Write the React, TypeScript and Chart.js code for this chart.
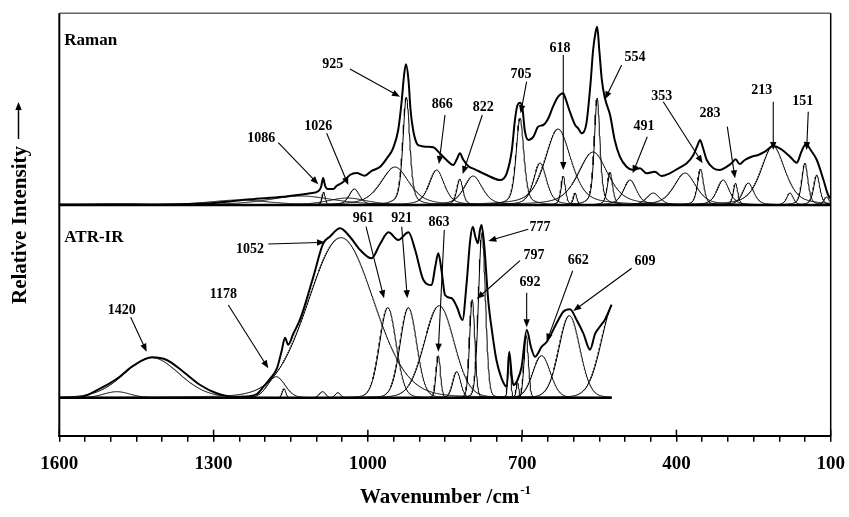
import React, { useEffect, useRef } from "react";
import { Chart, registerables } from "chart.js";

Chart.register(...registerables);

// ---------- axis ----------
const WN_MIN = 100;
const WN_MAX = 1600;
const xTickLabels = [1600, 1300, 1000, 700, 400, 100];

// ---------- Raman: measured spectrum (wavenumber, relative intensity) ----------
const ramanEnvWn = [1600, 1500, 1420, 1350, 1294, 1229, 1165, 1112, 1096, 1091, 1087, 1083, 1078, 1067, 1061, 1048, 1035, 1022, 1006, 993, 976, 963, 951, 941, 934, 930, 926, 921, 917, 912, 905, 899, 886, 873, 860, 847, 834, 827, 821, 815, 805, 792, 769, 743, 730, 720, 714, 709, 704, 699, 695, 688, 678, 669, 659, 649, 640, 630, 620, 617, 607, 597, 591, 584, 575, 567, 562, 557, 554, 550, 545, 539, 529, 520, 510, 497, 484, 471, 458, 442, 429, 413, 396, 380, 367, 360, 354, 349, 341, 328, 315, 302, 293, 285, 277, 267, 254, 241, 228, 212, 196, 179, 166, 157, 148, 139, 127, 114, 105, 100];
const ramanEnvInt = [0.5, 0.8, 0.6, 1, 2.3, 5.7, 8.3, 11.7, 14, 18, 27, 19, 16, 16, 19, 23, 30, 32, 29.3, 34, 38.3, 46.7, 56.7, 75, 105, 128, 140.7, 125, 95, 75, 61.7, 59.3, 58.3, 57.7, 51.7, 45, 40, 45.7, 51.7, 45.7, 39, 35.7, 30, 25, 31.7, 55, 85, 100, 102.3, 95, 75, 65, 68.3, 78.3, 80, 86.7, 98.3, 108.3, 111.7, 108.3, 93, 80, 76.7, 71.7, 81.7, 121.7, 155, 173.3, 178.3, 155, 125, 106.7, 90, 65, 48.3, 38.3, 35, 36.7, 31.7, 33.3, 29, 31.7, 36.7, 41.7, 50, 58.3, 65, 58.3, 45, 36.7, 35, 38.3, 41.7, 45.7, 41, 45, 48.3, 50, 53.3, 59, 55.7, 48.3, 42.3, 53.3, 61, 55, 45, 25, 10, 6];

// ---------- Raman: fitted bands (centre, height, FWHM) ----------
const ramanCenters = [1250, 1130, 1086, 1040, 1026, 947, 925, 866, 821, 795, 704, 665, 630, 620, 597, 562, 554, 529, 490, 445, 383, 353, 309, 285, 260, 212, 179, 150, 127, 108];
const ramanHeights = [5, 9, 13, 7, 16, 38, 108, 35, 26, 29, 87, 42, 76, 29, 12, 53, 107, 33, 25, 12, 32, 36, 25, 22, 22, 59, 12, 42, 30, 8];
const ramanWidths = [140, 150, 7, 90, 24, 65, 16, 35, 14, 42, 18, 30, 60, 10, 8, 68, 13, 12, 30, 30, 50, 14, 28, 10, 25, 55, 15, 14, 14, 12];

// ---------- ATR-IR: measured spectrum ----------
const irEnvWn = [1600, 1560, 1521, 1488, 1456, 1420, 1391, 1359, 1326, 1294, 1262, 1230, 1215, 1203, 1190, 1177, 1168, 1161, 1155, 1145, 1132, 1106, 1087, 1074, 1054, 1035, 1015, 993, 976, 960, 941, 921, 908, 892, 876, 869, 863, 856, 850, 837, 827, 816, 808, 801, 796, 791, 786, 782, 779, 774, 766, 758, 750, 740, 730, 725, 720, 717, 709, 701, 691, 683, 675, 662, 652, 633, 620, 607, 594, 581, 568, 558, 549, 539, 526];
const irEnvInt = [0, 0.5, 9, 19, 32, 40.4, 37.7, 26, 12.7, 4.4, 1, 1.5, 4, 11, 19, 29, 46, 60, 53, 64, 78, 121, 154, 161, 169.4, 161, 147.7, 139.4, 154, 165.4, 157.7, 165.4, 147.7, 117.7, 112.7, 131, 144.4, 124.4, 102.7, 99.4, 91, 77.7, 114.4, 157.7, 171, 161, 154.4, 167.7, 172.7, 154, 97.7, 64.4, 37.7, 19.4, 11, 46, 21, 12.7, 17.7, 31, 67.7, 51, 41, 51, 56, 74.4, 86, 88.4, 77.7, 64.4, 48, 64, 71, 78, 93];

// ---------- ATR-IR: fitted bands ----------
const irCenters = [1488, 1420, 1178, 1163, 1088, 1058, 1052, 961, 921, 863, 861, 827, 797, 778, 725, 709, 692, 662, 608, 520];
const irHeights = [6, 40, 21, 9, 6, 5, 160, 90, 90, 42, 92, 26, 98, 165, 45, 15, 62, 42, 82, 95];
const irWidths = [60, 125, 40, 8, 14, 12, 150, 38, 38, 10, 68, 18, 12, 16, 6, 6, 10, 40, 48, 60];

// ---------- peak labels ----------
const ramanPeakLabels = ["1086", "1026", "925", "866", "822", "705", "618", "554", "491", "353", "283", "213", "151"];
const ramanLabelWn = [1207.4, 1096.4, 1068.4, 855.3, 775.6, 702.3, 626.4, 480.6, 463.1, 428.7, 334.8, 234.3, 154.5];
const ramanLabelInt = [67.0, 78.3, 141.0, 100.7, 97.7, 131.0, 156.7, 147.7, 78.3, 109.0, 91.7, 115.0, 103.3];
const ramanArrowFromWn = [1174.2, 1080.1, 1034.8, 850, 777.5, 691.2, 620, 506.5, 456.7, 425.6, 301.1, 211.7, 143.6];
const ramanArrowFromInt = [62.3, 71.7, 136.0, 90.0, 90.0, 123.3, 150.0, 140.0, 68.3, 103.3, 78.3, 103.3, 93.3];
const ramanArrowToWn = [1096.4, 1038.1, 937.5, 861.7, 815.6, 702.9, 620, 539, 485.1, 349, 286.1, 211.7, 146.8];
const ramanArrowToInt = [20.7, 20.0, 108.3, 41.0, 31.0, 91.7, 35.0, 105.7, 31.7, 41.7, 26.7, 55.0, 55.0];

const irPeakLabels = ["1420", "1178", "1052", "961", "921", "863", "777", "797", "692", "662", "609"];
const irLabelWn = [1478.7, 1281.1, 1229.2, 1008.9, 934.2, 861.7, 665.3, 677, 684.8, 590.8, 461.2];
const irLabelInt = [87.7, 103.4, 148.4, 179.4, 179.4, 175.0, 170.4, 142.7, 115.0, 137.0, 136.0];
const irArrowFromWn = [1461.2, 1271.4, 1193.6, 1003.6, 934.2, 851.4, 688.1, 704.2, 691.2, 601.7, 487];
const irArrowFromInt = [80.4, 92.7, 153.7, 171.0, 171.0, 167.7, 168.4, 137.0, 105.0, 127.0, 129.4];
const irArrowToWn = [1430.1, 1193.6, 1083.4, 968.6, 923.3, 863.1, 765.8, 788.4, 691.2, 652.3, 600.6];
const irArrowToInt = [46.0, 29.4, 155.4, 99.4, 99.4, 46.0, 156.7, 98.7, 70.4, 56.0, 86.7];

// ---------- layout constants ----------
const Y_MAX = 422.4;
const RAMAN_OFFSET = 230.7;
const IR_OFFSET = 38;
const RAMAN_ETA = 0.5;
const IR_ETA = 0.1;
const FONT = '"Liberation Serif", "Times New Roman", serif';

function band(x: number, c: number, h: number, w: number, eta: number) {
  const d = (x - c) / w;
  const g = Math.exp(-4 * Math.LN2 * d * d);
  const l = 1 / (1 + 4 * d * d);
  return h * (eta * l + (1 - eta) * g);
}

function bandPoints(c: number, h: number, w: number, eta: number, lo: number, hi: number, offset: number) {
  const span = Math.max(6 * w, 40);
  const a = Math.max(lo, c - span);
  const b = Math.min(hi, c + span);
  const step = Math.min(1, w / 12);
  const pts: { x: number; y: number }[] = [];
  for (let x = a; x <= b + 1e-9; x += step) pts.push({ x, y: offset + band(x, c, h, w, eta) });
  return pts;
}

function envPoints(wn: number[], val: number[], offset: number) {
  const pts = wn.map((x, i) => ({ x, y: offset + val[i] }));
  return pts.sort((p, q) => p.x - q.x);
}

function drawArrow(ctx: CanvasRenderingContext2D, x1: number, y1: number, x2: number, y2: number) {
  const ang = Math.atan2(y2 - y1, x2 - x1);
  const L = 8, W = 3.2;
  ctx.beginPath();
  ctx.moveTo(x1, y1);
  ctx.lineTo(x2 - (L - 2) * Math.cos(ang), y2 - (L - 2) * Math.sin(ang));
  ctx.stroke();
  ctx.beginPath();
  ctx.moveTo(x2, y2);
  ctx.lineTo(x2 - L * Math.cos(ang) + W * Math.sin(ang), y2 - L * Math.sin(ang) - W * Math.cos(ang));
  ctx.lineTo(x2 - L * Math.cos(ang) - W * Math.sin(ang), y2 - L * Math.sin(ang) + W * Math.cos(ang));
  ctx.closePath();
  ctx.fill();
}

const decorPlugin = {
  id: "decor",
  afterDraw(chart: any) {
    const ctx: CanvasRenderingContext2D = chart.ctx;
    const xs = chart.scales.x;
    const ys = chart.scales.y;
    const area = chart.chartArea;
    ctx.save();
    // frame
    ctx.strokeStyle = "#666";
    ctx.lineWidth = 1.5;
    ctx.beginPath();
    ctx.moveTo(area.left, area.top);
    ctx.lineTo(area.right, area.top);
    ctx.stroke();
    ctx.strokeStyle = "#000";
    ctx.lineWidth = 2;
    ctx.beginPath();
    ctx.moveTo(area.left, area.top);
    ctx.lineTo(area.left, area.bottom);
    ctx.stroke();
    ctx.lineWidth = 1.5;
    ctx.beginPath();
    ctx.moveTo(area.right, area.top);
    ctx.lineTo(area.right, area.bottom);
    ctx.stroke();
    // major ticks crossing the axis
    ctx.lineWidth = 1.5;
    xTickLabels.forEach((v) => {
      const px = xs.getPixelForValue(v);
      ctx.beginPath();
      ctx.moveTo(px, area.bottom - 6);
      ctx.lineTo(px, area.bottom);
      ctx.stroke();
    });

    // peak labels and arrows
    ctx.fillStyle = "#000";
    ctx.strokeStyle = "#000";
    ctx.lineWidth = 1.1;
    ctx.font = `bold 14px ${FONT}`;
    ctx.textAlign = "center";
    ctx.textBaseline = "middle";
    const drawSet = (labels: string[], lw: number[], li: number[], fw: number[], fi: number[], tw: number[], ti: number[], off: number) => {
      labels.forEach((t, i) => {
        ctx.fillText(t, xs.getPixelForValue(lw[i]), ys.getPixelForValue(off + li[i]));
        drawArrow(
          ctx,
          xs.getPixelForValue(fw[i]),
          ys.getPixelForValue(off + fi[i]),
          xs.getPixelForValue(tw[i]),
          ys.getPixelForValue(off + ti[i])
        );
      });
    };
    drawSet(ramanPeakLabels, ramanLabelWn, ramanLabelInt, ramanArrowFromWn, ramanArrowFromInt, ramanArrowToWn, ramanArrowToInt, RAMAN_OFFSET);
    drawSet(irPeakLabels, irLabelWn, irLabelInt, irArrowFromWn, irArrowFromInt, irArrowToWn, irArrowToInt, IR_OFFSET);

    // panel names
    ctx.font = `bold 17px ${FONT}`;
    ctx.textAlign = "left";
    ctx.fillText("Raman", area.left + 5, ys.getPixelForValue(RAMAN_OFFSET + 164));
    ctx.fillText("ATR-IR", area.left + 5, ys.getPixelForValue(IR_OFFSET + 159.7));

    // x title with superscript
    const main = "Wavenumber /cm";
    const sup = "-1";
    ctx.font = `bold 21px ${FONT}`;
    const wMain = ctx.measureText(main).width;
    ctx.font = `bold 13px ${FONT}`;
    const wSup = ctx.measureText(sup).width;
    const cx = (area.left + area.right) / 2;
    const startX = cx - (wMain + wSup) / 2;
    ctx.textBaseline = "alphabetic";
    ctx.font = `bold 21px ${FONT}`;
    ctx.fillText(main, startX, 503);
    ctx.font = `bold 13px ${FONT}`;
    ctx.fillText(sup, startX + wMain + 1, 494);

    // y title with arrow
    ctx.save();
    ctx.translate(26, 225);
    ctx.rotate(-Math.PI / 2);
    ctx.font = `bold 21px ${FONT}`;
    ctx.textAlign = "center";
    ctx.textBaseline = "alphabetic";
    ctx.fillText("Relative Intensity", 0, 0);
    ctx.restore();
    ctx.lineWidth = 1.5;
    drawArrow(ctx, 18.5, 139, 18.5, 102);
    ctx.restore();
  },
};

export default function App() {
  const ref = useRef<HTMLCanvasElement | null>(null);

  useEffect(() => {
    if (!ref.current) return;
    const datasets: any[] = [];
    const thin = { borderColor: "#000", borderWidth: 1, pointRadius: 0, fill: false, tension: 0 };

    ramanCenters.forEach((c, i) => {
      datasets.push({ ...thin, data: bandPoints(c, ramanHeights[i], ramanWidths[i], RAMAN_ETA, WN_MIN, WN_MAX, RAMAN_OFFSET) });
    });
    const irLow = Math.min(...irEnvWn);
    irCenters.forEach((c, i) => {
      datasets.push({ ...thin, data: bandPoints(c, irHeights[i], irWidths[i], IR_ETA, irLow, WN_MAX, IR_OFFSET) });
    });
    // baselines
    datasets.push({ ...thin, borderWidth: 2.5, data: [{ x: WN_MAX, y: RAMAN_OFFSET }, { x: WN_MIN, y: RAMAN_OFFSET }] });
    datasets.push({ ...thin, borderWidth: 2.5, data: [{ x: WN_MAX, y: IR_OFFSET }, { x: irLow, y: IR_OFFSET }] });
    // measured spectra
    datasets.push({ ...thin, borderWidth: 2, cubicInterpolationMode: "monotone", data: envPoints(ramanEnvWn, ramanEnvInt, RAMAN_OFFSET) });
    datasets.push({ ...thin, borderWidth: 2, cubicInterpolationMode: "monotone", data: envPoints(irEnvWn, irEnvInt, IR_OFFSET) });

    const chart = new Chart(ref.current, {
      type: "line",
      data: { datasets },
      options: {
        animation: false,
        responsive: false,
        events: [],
        layout: { padding: { left: 59.3, right: 18.3, top: 13.3, bottom: 0 } },
        plugins: { legend: { display: false }, tooltip: { enabled: false }, title: { display: false } },
        elements: { point: { radius: 0 } },
        scales: {
          x: {
            type: "linear",
            reverse: true,
            min: WN_MIN,
            max: WN_MAX,
            afterFit: (s: any) => {
              s.height = 517 - 435.7;
              s.paddingLeft = 0;
              s.paddingRight = 0;
            },
            border: { display: true, color: "#000", width: 2 },
            grid: { display: true, drawOnChartArea: false, drawTicks: true, tickLength: 6, color: "#000", lineWidth: 1.5 },
            ticks: {
              stepSize: 50,
              autoSkip: false,
              maxRotation: 0,
              padding: 11,
              color: "#000",
              font: { family: FONT, size: 19, weight: "bold" },
              callback: (v: any) => ((WN_MAX - Number(v)) % 300 === 0 ? String(v) : ""),
            },
          },
          y: { display: false, min: 0, max: Y_MAX },
        },
      } as any,
      plugins: [decorPlugin],
    });
    return () => chart.destroy();
  }, []);

  return (
    <div style={{ position: "absolute", left: 0, top: 0, width: 849, height: 517, background: "#fff" }}>
      <canvas ref={ref} width={849} height={517} />
    </div>
  );
}
